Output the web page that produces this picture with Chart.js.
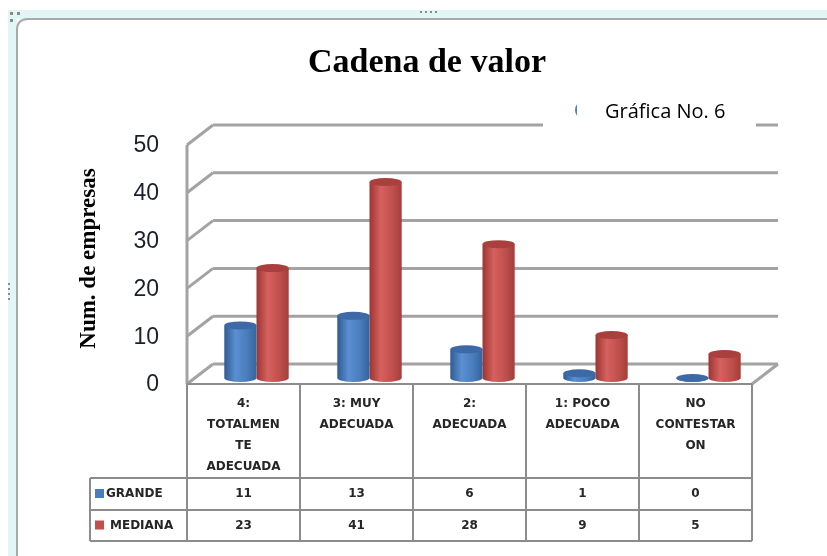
<!DOCTYPE html>
<html>
<head>
<meta charset="utf-8">
<title>Cadena de valor</title>
<script src="https://cdn.jsdelivr.net/npm/chart.js@4/dist/chart.umd.min.js"></script>
<style>
  html, body { margin: 0; padding: 0; background: #fff; }
  #wrap { position: relative; width: 827px; height: 556px; }
</style>
</head>
<body>
<div id="wrap"><canvas id="chart" width="827" height="556"></canvas></div>
<script>
'use strict'

// Chart data
const categories = [
  ['4:', 'TOTALMEN', 'TE', 'ADECUADA'],
  ['3: MUY', 'ADECUADA'],
  ['2:', 'ADECUADA'],
  ['1: POCO', 'ADECUADA'],
  ['NO', 'CONTESTAR', 'ON']
];
const seriesNames = ['GRANDE', 'MEDIANA'];
const grande = [11, 13, 6, 1, 0];
const mediana = [23, 41, 28, 9, 5];
const yTicks = [0, 10, 20, 30, 40, 50];
const chartTitle = 'Cadena de valor';
const yTitle = 'Num. de empresas';
const boxText = 'Gráfica No. 6';

// Look of the fake 3D
const CAT_PCT = 0.57;
const DX = 13;      // depth shift left/right
const UP = 14;      // back wall above the value
const DOWN = 6;     // front edge below the value
const blueCols = ['#2f5b92', '#5b8fd2', '#4a7dbd', '#35649e'];
const redCols = ['#9c3532', '#d6615e', '#c0504d', '#a53d3a'];

// cylinder shading, one gradient per bar
function cylFill(cols) {
  return function (ctx) {
    const chart = ctx.chart;
    const area = chart.chartArea;
    if (!area || ctx.dataIndex === undefined) return cols[2];
    const xs = chart.scales.x;
    const catW = (area.right - area.left) / categories.length;
    const bw = catW * CAT_PCT / 2;
    const cx = xs.getPixelForValue(ctx.dataIndex) + (ctx.datasetIndex === 0 ? -bw / 2 : bw / 2);
    const g = chart.ctx.createLinearGradient(cx - bw / 2, 0, cx + bw / 2, 0);
    g.addColorStop(0, cols[0]);
    g.addColorStop(0.35, cols[1]);
    g.addColorStop(0.7, cols[2]);
    g.addColorStop(1, cols[3]);
    return g;
  };
}

const frame3d = {
  id: 'frame3d',
  beforeDraw(chart) {
    const c = chart.ctx;
    c.save();
    c.fillStyle = '#fff';
    c.fillRect(0, 0, chart.width, chart.height);
    // word-style frame round the chart
    c.fillStyle = '#e3f6f6';
    c.fillRect(8, 10, chart.width - 8, 9);
    c.fillRect(8, 10, 9, chart.height - 10);
    c.strokeStyle = '#a9a9a9';
    c.lineWidth = 2;
    c.beginPath();
    c.moveTo(17, chart.height);
    c.lineTo(17, 30);
    c.quadraticCurveTo(17, 19, 28, 19);
    c.lineTo(chart.width, 19);
    c.stroke();
    c.fillStyle = '#8a8a8a';
    [[10, 12], [17, 12], [10, 19]].forEach(p => c.fillRect(p[0], p[1], 3, 3));
    for (let i = 0; i < 4; i++) c.fillRect(420 + i * 5, 11, 2, 2);
    for (let i = 0; i < 4; i++) c.fillRect(8, 283 + i * 5, 2, 2);
    // title
    c.fillStyle = '#000';
    c.font = 'bold 34px "Liberation Serif"';
    c.textAlign = 'center';
    c.textBaseline = 'alphabetic';
    c.fillText(chartTitle, 427, 72);
    c.restore();
  },
  beforeDatasetsDraw(chart) {
    const c = chart.ctx;
    const a = chart.chartArea;
    const ys = chart.scales.y;
    const fl = a.left - DX, bl = a.left + DX;
    const fr = a.right - DX, br = a.right + DX;
    c.save();
    c.strokeStyle = '#a3a3a3';
    c.lineWidth = 3;
    c.lineCap = 'butt';
    yTicks.forEach(v => {
      const yb = ys.getPixelForValue(v) - UP;
      const yf = ys.getPixelForValue(v) + DOWN;
      c.beginPath();
      c.moveTo(bl, yb);
      c.lineTo(br, yb);
      c.moveTo(fl, yf);
      c.lineTo(bl, yb);
      c.stroke();
    });
    const y0f = ys.getPixelForValue(0) + DOWN;
    const y0b = ys.getPixelForValue(0) - UP;
    c.beginPath();
    c.moveTo(fl, ys.getPixelForValue(50) + DOWN);
    c.lineTo(fl, y0f);
    c.moveTo(fr, y0f);
    c.lineTo(br, y0b);
    c.stroke();
    c.restore();
  },
  afterDatasetsDraw(chart) {
    const c = chart.ctx;
    const tops = ['#3d6aa6', '#a9403d'];
    c.save();
    chart.data.datasets.forEach((ds, di) => {
      chart.getDatasetMeta(di).data.forEach(el => {
        const rx = el.width / 2;
        c.fillStyle = el.options.backgroundColor;
        c.beginPath();
        c.ellipse(el.x, el.base, rx, 4, 0, 0, Math.PI);
        c.fill();
        c.fillStyle = tops[di];
        c.beginPath();
        c.ellipse(el.x, el.y, rx, 4, 0, 0, Math.PI * 2);
        c.fill();
      });
    });
    c.restore();
  },
  afterDraw(chart) {
    const c = chart.ctx;
    const a = chart.chartArea;
    const ys = chart.scales.y;
    const xs = chart.scales.x;
    const catW = (a.right - a.left) / categories.length;
    const top = ys.getPixelForValue(0) + DOWN;
    const rows = [478, 510, 541];
    const left = 90;
    const fl = a.left - DX, fr = a.right - DX;
    c.save();
    // data table under the plot
    c.strokeStyle = '#8c8c8c';
    c.lineWidth = 2;
    c.beginPath();
    for (let i = 0; i <= categories.length; i++) {
      const x = fl + i * catW;
      c.moveTo(x, top);
      c.lineTo(x, rows[2]);
    }
    c.moveTo(fl, top);
    c.lineTo(fr, top);
    rows.forEach(y => { c.moveTo(left, y); c.lineTo(fr, y); });
    c.moveTo(left, rows[0]);
    c.lineTo(left, rows[2]);
    c.stroke();

    const series = [grande, mediana];
    const keys = [blueCols[2], redCols[2]];
    c.font = 'bold 12px "DejaVu Sans"';
    c.textBaseline = 'middle';
    series.forEach((vals, si) => {
      const ym = (rows[si] + rows[si + 1]) / 2;
      c.fillStyle = keys[si];
      c.fillRect(95, ym - 5, 9, 9);
      c.fillStyle = '#262626';
      c.textAlign = 'left';
      c.fillText(seriesNames[si], si === 0 ? 106 : 110, ym);
      c.textAlign = 'center';
      vals.forEach((v, i) => {
        c.fillText(String(v), xs.getPixelForValue(i) - DX, ym);
      });
    });

    // text box pasted over the legend
    c.fillStyle = '#fff';
    c.fillRect(543, 96, 213, 40);
    c.save();
    c.beginPath();
    c.rect(572, 100, 5, 20);
    c.clip();
    c.fillStyle = '#4f81bd';
    c.beginPath();
    c.arc(584, 110, 9, 0, Math.PI * 2);
    c.fill();
    c.restore();
    c.fillStyle = '#000';
    c.font = '20px "Open Sans"';
    c.textAlign = 'left';
    c.textBaseline = 'alphabetic';
    c.fillText(boxText, 605, 118);
    c.restore();
  }
};

const config = {
  type: 'bar',
  data: {
    labels: categories,
    datasets: [
      { label: seriesNames[0], data: grande, backgroundColor: cylFill(blueCols) },
      { label: seriesNames[1], data: mediana, backgroundColor: cylFill(redCols) }
    ]
  },
  options: {
    responsive: false,
    devicePixelRatio: 1,
    animation: false,
    layout: { padding: { top: 139, left: 75, right: 62, bottom: 0 } },
    datasets: { bar: { categoryPercentage: CAT_PCT, barPercentage: 1.0, borderWidth: 0 } },
    plugins: {
      legend: { display: false },
      title: { display: false },
      tooltip: { enabled: false }
    },
    scales: {
      x: {
        grid: { display: false, drawTicks: false },
        border: { display: false },
        ticks: {
          color: '#262626',
          font: { family: 'DejaVu Sans', size: 12, weight: 'bold', lineHeight: 1.75 },
          padding: 15,
          labelOffset: -DX,
          maxRotation: 0,
          autoSkip: false
        },
        afterFit: s => { s.height = 178; }
      },
      y: {
        min: 0,
        max: 50,
        grid: { display: false, drawTicks: false },
        border: { display: false },
        afterBuildTicks: s => { s.ticks = yTicks.map(v => ({ value: v })); },
        ticks: {
          color: '#1b1f2a',
          font: { family: 'Liberation Sans', size: 23 },
          padding: 41,
          labelOffset: 7
        },
        title: {
          display: true,
          text: yTitle,
          color: '#000',
          font: { family: 'Liberation Serif', size: 23, weight: 'bold' },
          padding: { top: 0, bottom: 0 }
        },
        afterFit: s => { s.width = 125; }
      }
    }
  },
  plugins: [frame3d]
};

const myChart = new Chart(document.getElementById('chart'), config);
</script>
</body>
</html>
